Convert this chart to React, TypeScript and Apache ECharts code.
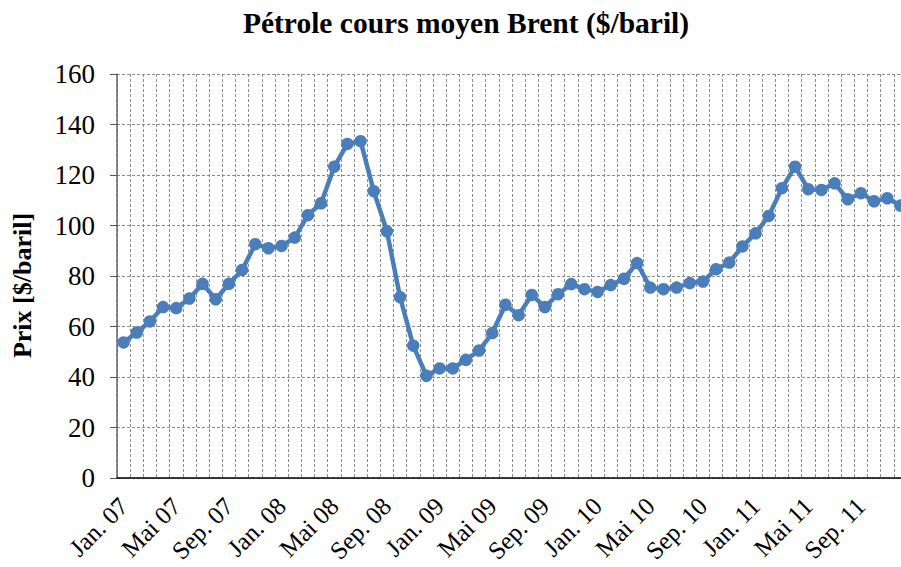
import React, { useEffect, useRef } from "react";
import * as echarts from "echarts";

const monthNames = ["Jan.", "Fév.", "Mar.", "Avr.", "Mai", "Juin", "Juil.", "Août", "Sep.", "Oct.", "Nov.", "Déc."];
const years = ["07", "08", "09", "10", "11"];
const categories: string[] = [];
years.forEach((y) => monthNames.forEach((m) => categories.push(`${m} ${y}`)));

const brentPrices = [
  53.7, 57.6, 62.0, 67.7, 67.3, 71.1, 76.9, 70.8, 76.9, 82.4, 92.6, 91.0,
  91.9, 95.2, 104.1, 108.8, 123.3, 132.3, 133.4, 113.6, 97.7, 71.6, 52.4, 40.5,
  43.4, 43.4, 46.8, 50.5, 57.4, 68.6, 64.5, 72.5, 67.7, 72.8, 76.8, 74.8,
  73.7, 76.4, 78.9, 85.1, 75.4, 74.8, 75.4, 77.2, 77.8, 82.7, 85.3, 91.7,
  96.9, 103.8, 114.8, 123.3, 114.4, 114.1, 116.7, 110.4, 112.8, 109.6, 110.8, 107.9,
];

const FONT = "Liberation Serif, Times New Roman, serif";

export default function App() {
  const ref = useRef<HTMLDivElement>(null);
  useEffect(() => {
    if (!ref.current) return;
    const chart = echarts.init(ref.current, null, { renderer: "svg" });
    const dash = { color: "#8c8c8c", width: 1, type: [3, 2] as number[] };
    chart.setOption({
      animation: false,
      backgroundColor: "#ffffff",
      textStyle: { fontFamily: FONT },
      title: {
        text: "Pétrole cours moyen Brent ($/baril)",
        left: 461,
        textAlign: "center",
        top: 3,
        textStyle: { fontFamily: FONT, fontSize: 29.5, fontWeight: "bold", color: "#000" },
      },
      grid: { left: 117, top: 74, right: -6, bottom: 89, containLabel: false, outerBoundsMode: "none" },
      xAxis: {
        type: "category",
        data: categories,
        boundaryGap: true,
        axisLine: { lineStyle: { color: "#000", width: 1.5 } },
        axisTick: { interval: 0, length: 7, lineStyle: { color: "#777", width: 1.5 } },
        axisLabel: {
          interval: 3,
          rotate: 45,
          margin: 24,
          fontFamily: FONT,
          fontSize: 25,
          color: "#000",
        },
        splitLine: { show: true, interval: 0, lineStyle: dash },
      },
      yAxis: {
        type: "value",
        min: 0,
        max: 160,
        interval: 20,
        name: "Prix [$/baril]",
        nameLocation: "middle",
        nameGap: 82,
        nameTextStyle: {
          fontFamily: FONT,
          fontSize: 26,
          fontWeight: "bold",
          color: "#000",
          padding: [0, 19, 0, 0],
        },
        axisLine: { show: true, lineStyle: { color: "#666", width: 1.5 } },
        axisTick: { show: true, length: 7, lineStyle: { color: "#555", width: 1 } },
        axisLabel: { fontFamily: FONT, fontSize: 27, color: "#000", margin: 22 },
        splitLine: { show: true, lineStyle: dash },
      },
      series: [
        {
          type: "line",
          data: brentPrices,
          symbol: "circle",
          symbolSize: 12.5,
          showAllSymbol: true,
          lineStyle: { color: "#4A7EBB", width: 4.5 },
          itemStyle: { color: "#4A7EBB" },
          clip: false,
        },
      ],
    });
    return () => chart.dispose();
  }, []);
  return <div ref={ref} style={{ width: 901, height: 567, position: "fixed", left: 0, top: 0 }} />;
}
